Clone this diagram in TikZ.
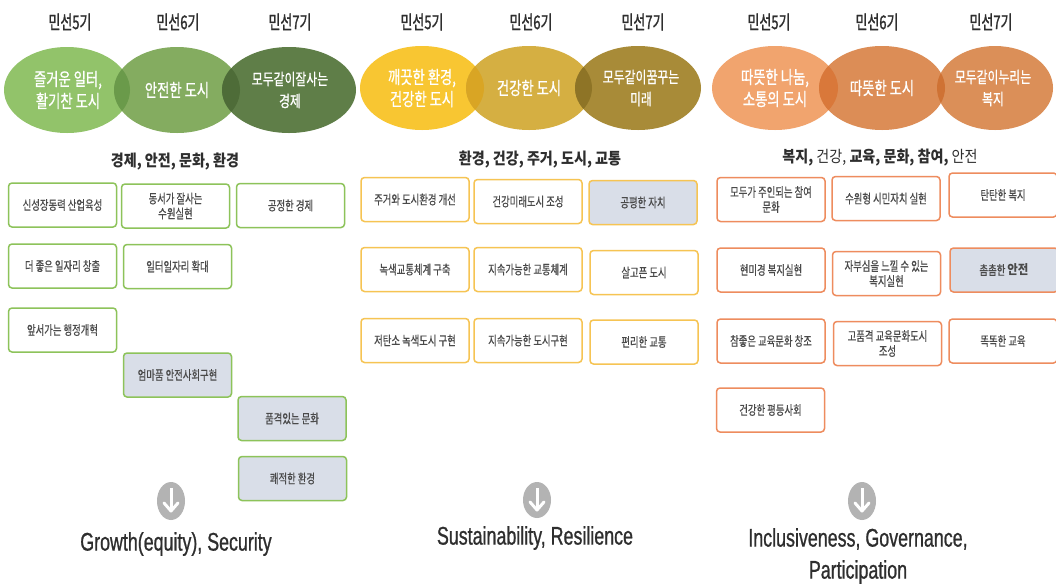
\documentclass[tikz,border=0pt]{standalone}
\usepackage{fontspec}
\newfontfamily\kr[FakeStretch=0.72, FakeBold=0.6]{Noto Sans CJK KR}
\newfontfamily\krt[FakeStretch=0.68, FakeBold=1.2]{Noto Sans CJK KR}
\newfontfamily\kre[FakeStretch=0.74, FakeBold=0.8]{Noto Sans CJK KR}
\newfontfamily\krh[FakeStretch=0.88]{Noto Sans CJK KR}
\newfontfamily\en[FakeStretch=0.7, FakeBold=0.8]{Liberation Sans}
\definecolor{gA}{HTML}{92C36A}
\definecolor{gB}{HTML}{84AC60}
\definecolor{gC}{HTML}{5F7E48}
\definecolor{gAB}{HTML}{6A9A4A}
\definecolor{gBC}{HTML}{4E6C38}
\definecolor{yA}{HTML}{F8C632}
\definecolor{yB}{HTML}{D5AF42}
\definecolor{yC}{HTML}{A88B38}
\definecolor{yAB}{HTML}{D9A524}
\definecolor{yBC}{HTML}{8E7426}
\definecolor{oA}{HTML}{F1A46E}
\definecolor{oB}{HTML}{DC8D56}
\definecolor{oC}{HTML}{DB8F58}
\definecolor{oAB}{HTML}{D9783A}
\definecolor{oBC}{HTML}{CF7234}
\definecolor{gline}{HTML}{8DC35A}
\definecolor{yline}{HTML}{F6C453}
\definecolor{oline}{HTML}{EE8C5E}
\definecolor{grayfill}{HTML}{D9DEE8}
\definecolor{boxtext}{HTML}{4A4A4A}
\definecolor{headtext}{HTML}{2E2E2E}
\definecolor{arrowgray}{HTML}{B3B3B3}
\begin{document}
\begin{tikzpicture}[x=1pt,y=-1pt,
  basebox/.style={draw, rounded corners=3.5pt, line width=1.5pt, fill=white,
    minimum width=108pt, minimum height=44pt, inner sep=1pt, align=center,
    text=boxtext, font=\kr\fontsize{13}{15}\selectfont},
  gbox/.style={basebox, draw=gline},
  ybox/.style={basebox, draw=yline},
  obox/.style={basebox, draw=oline},
  hl/.style={fill=grayfill},
  term/.style={text=headtext, font=\krt\fontsize{19}{22}\selectfont},
  etext/.style={text=white, align=center, font=\kre\fontsize{18}{22}\selectfont},
  etextn/.style={text=white, align=center, font=\kre\fontsize{16}{22}\selectfont},
  heading/.style={text=headtext, font=\krh\bfseries\fontsize{16}{18}\selectfont},
  entext/.style={text=headtext, align=center, font=\en\fontsize{25.5}{32}\selectfont},
]
\useasboundingbox (0,0) rectangle (1056,584);
\fill[white] (0,0) rectangle (1056,584);

% ---------- Panel 1 ----------
\node[term] (p1t5) at (70,22) {민선5기};
\node[term] (p1t6) at (178,22) {민선6기};
\node[term] (p1t7) at (290,22) {민선7기};
\fill[gA] (67,90) ellipse [x radius=63, y radius=43];
\fill[gB] (177,90) ellipse [x radius=63, y radius=43];
\fill[gC] (289,90) ellipse [x radius=67, y radius=43];
\begin{scope}
 \clip (67,90) ellipse [x radius=63, y radius=43];
 \fill[gAB] (177,90) ellipse [x radius=63, y radius=43];
\end{scope}
\begin{scope}
 \clip (177,90) ellipse [x radius=63, y radius=43];
 \fill[gBC] (289,90) ellipse [x radius=67, y radius=43];
\end{scope}
\node[etext] (p1e1) at (68,90) {즐거운 일터,\\활기찬 도시};
\node[etext] (p1e2) at (177,90) {안전한 도시};
\node[etextn] (p1e3) at (290,90) {모두같이잘사는\\경제};
\node[heading] (p1h) at (175,162) {경제, 안전, 문화, 환경};

\node[gbox] (a1) at (62.5,205) {신성장동력 산업육성};
\node[gbox] (a2) at (175.5,206) {동서가 잘사는\\수원실현};
\node[gbox] (a3) at (290.5,205.5) {공정한 경제};
\node[gbox] (a4) at (62.5,266) {더 좋은 일자리 창출};
\node[gbox] (a5) at (177.5,266.5) {일터일자리 확대};
\node[gbox] (a6) at (62.5,330) {앞서가는 행정개혁};
\node[gbox,hl] (a7) at (177.5,375) {엄마품 안전사회구현};
\node[gbox,hl] (a8) at (292,418.5) {품격있는 문화};
\node[gbox,hl] (a9) at (292.5,478.5) {쾌적한 환경};

\fill[arrowgray] (171,501) ellipse [x radius=14, y radius=19];
\draw[white, line width=3pt] (171,488) -- (171,510);
\draw[white, line width=3pt, line cap=round, line join=round] (164,503) -- (171,511) -- (178,503);
\node[entext] (p1en) at (176,544) {Growth(equity), Security};

% ---------- Panel 2 ----------
\node[term] (p2t5) at (422,22) {민선5기};
\node[term] (p2t6) at (531,22) {민선6기};
\node[term] (p2t7) at (643,22) {민선7기};
\fill[yA] (422,88) ellipse [x radius=62, y radius=42];
\fill[yB] (529,88) ellipse [x radius=63, y radius=42];
\fill[yC] (638,88) ellipse [x radius=63, y radius=42];
\begin{scope}
 \clip (422,88) ellipse [x radius=62, y radius=42];
 \fill[yAB] (529,88) ellipse [x radius=63, y radius=42];
\end{scope}
\begin{scope}
 \clip (529,88) ellipse [x radius=63, y radius=42];
 \fill[yBC] (638,88) ellipse [x radius=63, y radius=42];
\end{scope}
\node[etext] (p2e1) at (422,88) {깨끗한 환경,\\건강한 도시};
\node[etext] (p2e2) at (529,88) {건강한 도시};
\node[etextn] (p2e3) at (641,88) {모두같이꿈꾸는\\미래};
\node[heading] (p2h) at (540,160) {환경, 건강, 주거, 도시, 교통};

\node[ybox] (b1) at (415,199.5) {주거와 도시환경 개선};
\node[ybox] (b2) at (528,201.5) {건강미래도시 조성};
\node[ybox,hl] (b3) at (643,202.5) {공평한 자치};
\node[ybox] (b4) at (415,269.5) {녹색교통체계 구축};
\node[ybox] (b5) at (528,269.5) {지속가능한 교통체계};
\node[ybox] (b6) at (644,272.5) {살고픈 도시};
\node[ybox] (b7) at (415,340.5) {저탄소 녹색도시 구현};
\node[ybox] (b8) at (528,340.5) {지속가능한 도시구현};
\node[ybox] (b9) at (644,342) {편리한 교통};

\fill[arrowgray] (537,500) ellipse [x radius=14, y radius=18];
\draw[white, line width=3pt] (537,488) -- (537,509);
\draw[white, line width=3pt, line cap=round, line join=round] (530,502) -- (537,510) -- (544,502);
\node[entext] (p2en) at (535,538) {Sustainability, Resilience};

% ---------- Panel 3 ----------
\node[term] (p3t5) at (769,22) {민선5기};
\node[term] (p3t6) at (877,22) {민선6기};
\node[term] (p3t7) at (991,22) {민선7기};
\fill[oA] (775,88) ellipse [x radius=63, y radius=42];
\fill[oB] (882,88) ellipse [x radius=63, y radius=42];
\fill[oC] (995,88) ellipse [x radius=58, y radius=42];
\begin{scope}
 \clip (775,88) ellipse [x radius=63, y radius=42];
 \fill[oAB] (882,88) ellipse [x radius=63, y radius=42];
\end{scope}
\begin{scope}
 \clip (882,88) ellipse [x radius=63, y radius=42];
 \fill[oBC] (995,88) ellipse [x radius=58, y radius=42];
\end{scope}
\node[etext] (p3e1) at (775,88) {따뜻한 나눔,\\소통의 도시};
\node[etext] (p3e2) at (882,88) {따뜻한 도시};
\node[etextn] (p3e3) at (993,88) {모두같이누리는\\복지};
\node[heading] (p3h) at (880,158) {복지, {\mdseries 건강,} 교육, 문화, 참여, {\mdseries 안전}};

\node[obox] (c1) at (771,199.5) {모두가 주인되는 참여\\문화};
\node[obox] (c2) at (886,198.5) {수원형 시민자치 실현};
\node[obox] (c3) at (1003,195) {탄탄한 복지};
\node[obox] (c4) at (771,270) {현미경 복지실현};
\node[obox] (c5) at (886.5,273.5) {자부심을 느낄 수 있는\\복지실현};
\node[obox,hl] (c6) at (1004,270) {촘촘한 {\krh\bfseries 안전}};
\node[obox] (c7) at (771,341) {참좋은 교육문화 창조};
\node[obox] (c8) at (887.5,343.5) {고품격 교육문화도시\\조성};
\node[obox] (c9) at (1003,341) {똑똑한 교육};
\node[obox] (c10) at (770.5,410) {건강한 평등사회};

\fill[arrowgray] (862,501) ellipse [x radius=14, y radius=19];
\draw[white, line width=3pt] (862,488) -- (862,510);
\draw[white, line width=3pt, line cap=round, line join=round] (855,503) -- (862,511) -- (869,503);
\node[entext] (p3en) at (858,556) {Inclusiveness, Governance,\\Participation};
\end{tikzpicture}
\end{document}
